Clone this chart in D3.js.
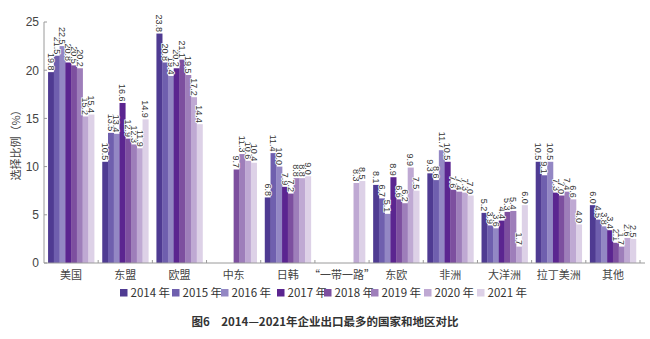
<!DOCTYPE html>
<html><head><meta charset="utf-8">
<script src="https://cdn.jsdelivr.net/npm/d3@7/dist/d3.min.js"></script>
<style>body{margin:0;background:#fff}svg{display:block}</style>
</head><body>
<svg id="c" width="650" height="339"></svg>
<script>
const categories = ["美国","东盟","欧盟","中东","日韩","“一带一路”","东欧","非洲","大洋洲","拉丁美洲","其他"];
const years = ["2014 年","2015 年","2016 年","2017 年","2018 年","2019 年","2020 年","2021 年"];
const s2014 = [19.8,10.5,23.8,null,6.8,null,8.1,9.3,5.2,10.5,6.0];
const s2015 = [21.5,13.5,20.8,null,11.4,null,6.7,8.6,3.9,9.1,4.5];
const s2016 = [22.5,13.4,19.4,null,10.0,null,5.1,11.7,3.6,10.5,3.8];
const s2017 = [20.8,16.6,20.2,null,7.9,null,8.9,10.5,4.4,7.3,3.4];
const s2018 = [20.5,12.9,21.1,9.7,7.2,null,6.6,7.6,5.3,7.0,2.1];
const s2019 = [20.2,12.3,19.5,11.3,8.8,null,6.2,7.4,5.4,7.4,1.7];
const s2020 = [15.2,11.9,17.2,10.6,8.8,8.3,9.9,7.3,1.7,6.6,2.6];
const s2021 = [15.4,14.9,14.4,10.4,9.0,8.5,7.5,7.0,6.0,4.0,2.5];
const series = [s2014,s2015,s2016,s2017,s2018,s2019,s2020,s2021];
const yTicks = [0,5,10,15,20,25];
const colors = ["#4f3b92","#6f5fae","#9387c4","#5b2590","#7d4f9f","#9e7eba","#bfa9d3","#ddd1e7"];

const svg = d3.select("#c");
const x0 = d3.scaleBand().domain(categories).range([44, 640]).paddingInner(0.15).paddingOuter(0.075);
const x1 = d3.scaleBand().domain(d3.range(8)).range([0, x0.bandwidth()]);
const y = d3.scaleLinear().domain([0,25]).range([263, 22]);
const axisCol = "#9a9a9a";
const font = "'Liberation Sans', Arial, sans-serif";
const cjk = "'Noto Sans CJK SC', sans-serif";

// bars
categories.forEach((c,i)=>{
  series.forEach((s,j)=>{
    const v = s[i];
    if (v==null) return;
    svg.append("rect")
      .attr("x", x0(c)+x1(j)).attr("y", y(v))
      .attr("width", x1.bandwidth()+0.3).attr("height", y(0)-y(v))
      .attr("fill", colors[j]);
  });
});
// labels
categories.forEach((c,i)=>{
  series.forEach((s,j)=>{
    const v = s[i];
    if (v==null) return;
    const cx = x0(c)+x1(j)+x1.bandwidth()/2;
    svg.append("text")
      .attr("transform", `translate(${cx},${y(v)-1.5}) rotate(90)`)
      .attr("text-anchor","end").attr("dy","0.35em")
      .attr("font-family", font).attr("font-size", 9).attr("fill","#333")
      .attr("stroke","#fff").attr("stroke-width",1.6).attr("paint-order","stroke")
      .text(v.toFixed(1));
  });
});

// y axis
svg.append("line").attr("x1",44).attr("x2",44).attr("y1",y(25)).attr("y2",y(0)).attr("stroke",axisCol);
yTicks.forEach(t=>{
  svg.append("line").attr("x1",44).attr("x2",47).attr("y1",y(t)).attr("y2",y(t)).attr("stroke",axisCol);
  svg.append("text").attr("x",39).attr("y",y(t)).attr("dy","0.36em").attr("text-anchor","end")
    .attr("font-family",font).attr("font-size",12).attr("fill","#444").text(t);
});
svg.append("text").attr("transform",`translate(16,${y(12.5)}) rotate(-90)`)
  .attr("text-anchor","middle").attr("dy","0.35em").attr("font-family",cjk).attr("font-size",11).attr("fill","#444")
  .text("选择比例（%）");

// x axis
svg.append("line").attr("x1",44).attr("x2",645).attr("y1",y(0)).attr("y2",y(0)).attr("stroke",axisCol);
categories.forEach((c,i)=>{
  const bx = x0(c) + x0.bandwidth() + x0.step()*x0.paddingInner()/2;
  svg.append("line").attr("x1",bx).attr("x2",bx).attr("y1",y(0)).attr("y2",y(0)-3).attr("stroke",axisCol);
  svg.append("text").attr("x",x0(c)+x0.bandwidth()/2).attr("y",275).attr("dy","0.35em").attr("text-anchor","middle")
    .attr("font-family",cjk).attr("font-size",11).attr("fill","#444").text(c);
});

// legend
const lx = [120,172,221,277,324,371,424,477];
years.forEach((yr,j)=>{
  svg.append("rect").attr("x",lx[j]).attr("y",289).attr("width",7.5).attr("height",7.5).attr("fill",colors[j]);
  svg.append("text").attr("x",lx[j]+10.5).attr("y",293).attr("dy","0.35em")
    .attr("font-family",cjk).attr("font-size",11.5).attr("fill","#333").text(yr);
});

// caption
svg.append("text").attr("x",325).attr("y",322).attr("dy","0.35em").attr("text-anchor","middle")
  .attr("font-family",cjk).attr("font-size",11.5).attr("font-weight","bold").attr("fill","#333")
  .text("图6　2014—2021年企业出口最多的国家和地区对比");
</script>
</body></html>
